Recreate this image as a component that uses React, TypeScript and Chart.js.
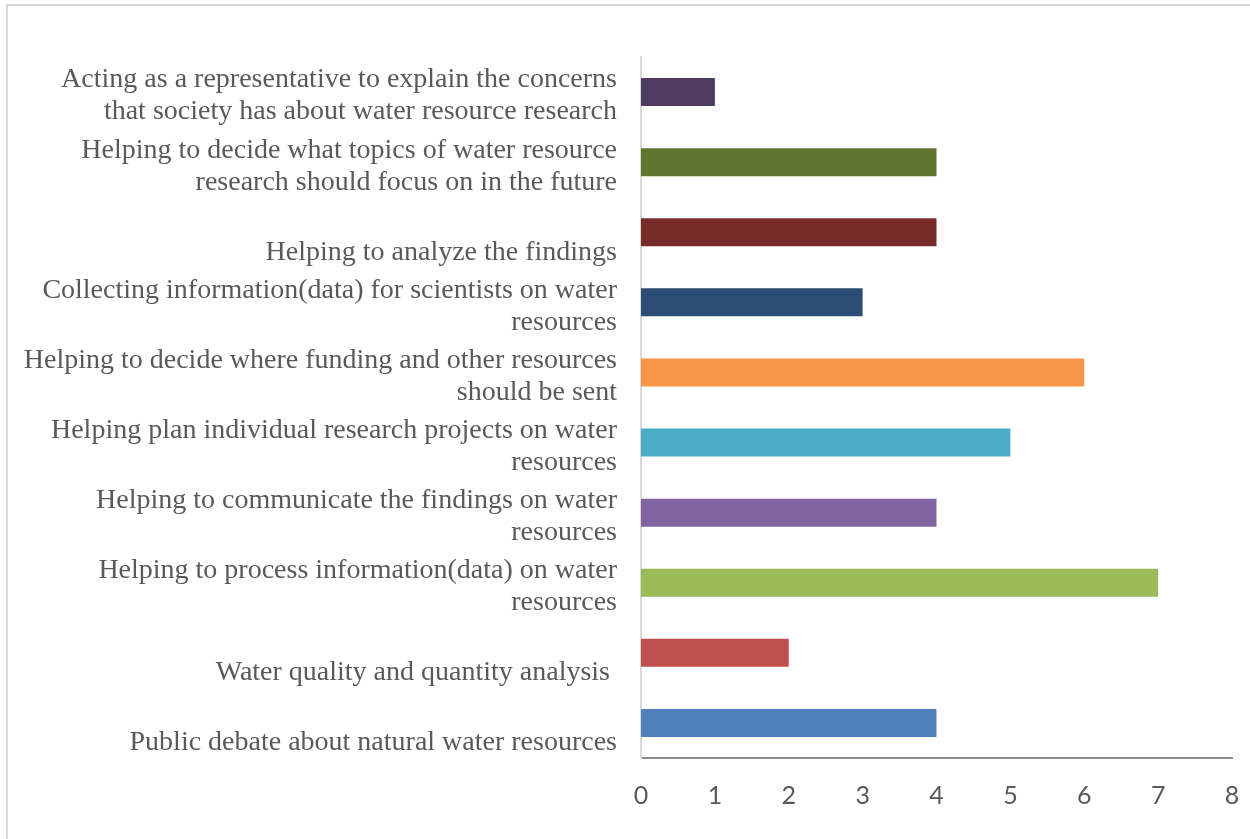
import React, { useEffect, useRef } from "react";
import { Chart, registerables } from "chart.js";

Chart.register(...registerables);

// Categories listed top to bottom; an empty first line pushes a label down like the original wrap.
const categories: string[][] = [
  ["Acting as a representative to explain the concerns", "that society has about water resource research"],
  ["Helping to decide what topics of water resource", "research should focus on in the future"],
  ["", "Helping to analyze the findings"],
  ["Collecting information(data) for scientists on water", "resources"],
  ["Helping to decide where funding and other resources", "should be sent"],
  ["Helping plan individual research projects on water", "resources"],
  ["Helping to communicate the findings on water", "resources"],
  ["Helping to process information(data) on water", "resources"],
  ["", "Water quality and quantity analysis "],
  ["", "Public debate about natural water resources"],
];

const responses: number[] = [1, 4, 4, 3, 6, 5, 4, 7, 2, 4];

const barColors: string[] = [
  "#4E3B62",
  "#5F7530",
  "#772C2A",
  "#2C4D75",
  "#F79646",
  "#4BACC6",
  "#8064A2",
  "#9BBB59",
  "#C0504D",
  "#4F81BD",
];

const axisMin = 0;
const axisMax = 8;
const axisStep = 1;

export default function App() {
  const canvasRef = useRef<HTMLCanvasElement | null>(null);

  useEffect(() => {
    const canvas = canvasRef.current;
    if (!canvas) return;
    const chart = new Chart(canvas, {
      type: "bar",
      data: {
        labels: categories,
        datasets: [
          {
            data: responses,
            backgroundColor: barColors,
            borderWidth: 0,
            categoryPercentage: 1,
            barPercentage: 0.4,
          },
        ],
      },
      options: {
        indexAxis: "y",
        responsive: false,
        maintainAspectRatio: false,
        animation: false,
        layout: { padding: { top: 57, right: 18, left: 0, bottom: 0 } },
        plugins: {
          legend: { display: false },
          tooltip: { enabled: false },
        },
        scales: {
          x: {
            min: axisMin,
            max: axisMax,
            ticks: {
              stepSize: axisStep,
              color: "#595959",
              font: { family: "Lato", size: 25 },
              padding: 23,
            },
            grid: { display: false, drawTicks: false },
            border: { display: true, color: "#8C8C8C", width: 2 },
            afterFit: (scale: any) => {
              scale.height = 81;
              scale.paddingLeft = 0;
              scale.paddingRight = 0;
            },
          },
          y: {
            ticks: {
              color: "#595959",
              font: { family: "'Liberation Serif', 'Times New Roman', serif", size: 28, lineHeight: 32 / 28 },
              padding: 24,
              labelOffset: 4,
              autoSkip: false,
            },
            grid: { display: false, drawTicks: false },
            border: { display: true, color: "#D9D9D9", width: 2 },
            afterFit: (scale: any) => {
              scale.width = 641;
            },
          },
        },
      },
    });
    return () => chart.destroy();
  }, []);

  return (
    <div style={{ position: "fixed", left: 0, top: 0, width: 1250, height: 839, background: "#fff", overflow: "hidden" }}>
      <div
        style={{
          position: "absolute",
          left: 6,
          top: 4,
          width: 1300,
          height: 900,
          borderTop: "2px solid #D9D9D9",
          borderLeft: "2px solid #D9D9D9",
        }}
      />
      <canvas ref={canvasRef} width={1250} height={839} style={{ position: "absolute", left: 0, top: 0 }} />
    </div>
  );
}
